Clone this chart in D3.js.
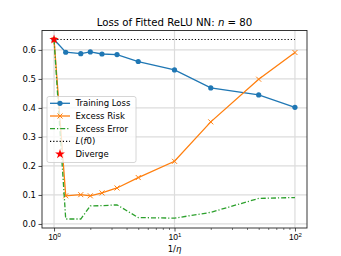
<!DOCTYPE html>
<html><head><meta charset="utf-8">
<script src="https://cdn.jsdelivr.net/npm/d3@7"></script>
<style>
html,body{margin:0;padding:0;background:#fff;}
svg{display:block;font-family:"DejaVu Sans",sans-serif;}
</style></head>
<body><svg id="c" width="341" height="256"></svg>
<script>
const invEta = [1, 1.25, 1.667, 2, 2.5, 3.333, 5, 10, 20, 50, 100];
const trainingLoss = [0.636, 0.592, 0.587, 0.593, 0.586, 0.584, 0.560, 0.531, 0.469, 0.445, 0.402];
const excessRisk   = [0.636, 0.097, 0.101, 0.097, 0.107, 0.124, 0.160, 0.216, 0.352, 0.499, 0.591];
const excessError  = [0.636, 0.017, 0.017, 0.062, 0.063, 0.066, 0.022, 0.020, 0.040, 0.088, 0.091];
const lf0 = 0.636;
const divergeX = [1];
const divergeY = [0.636];
const yTicks = [0.0, 0.1, 0.2, 0.3, 0.4, 0.5, 0.6];
const xTicks = [1, 10, 100];
const xTickExp = ["0", "1", "2"];

const svg = d3.select("#c");
const L = 42, R = 307, T = 30.5, B = 228;

const lx0 = Math.log10(d3.min(invEta)), lx1 = Math.log10(d3.max(invEta));
const xpad = 0.05 * (lx1 - lx0);
const x = d3.scaleLog().domain([Math.pow(10, lx0 - xpad), Math.pow(10, lx1 + xpad)]).range([L, R]);
const allY = trainingLoss.concat(excessRisk, excessError, [lf0]);
const ymin = d3.min(allY), ymax = d3.max(allY), ypad = 0.05 * (ymax - ymin);
const y = d3.scaleLinear().domain([ymin - ypad, ymax + ypad]).range([B, T]);

// grid
const grid = svg.append("g");
yTicks.forEach(v => grid.append("line").attr("x1", L).attr("x2", R).attr("y1", y(v)).attr("y2", y(v))
  .attr("stroke", "#dcdcdc").attr("stroke-width", 1.2));
xTicks.forEach(v => grid.append("line").attr("x1", x(v)).attr("x2", x(v)).attr("y1", T).attr("y2", B)
  .attr("stroke", "#dcdcdc").attr("stroke-width", 1.2));

// axes
const xAxis = d3.axisBottom(x).tickValues(xTicks).tickSize(3.5).tickFormat("");
const gx = svg.append("g").attr("transform", `translate(0,${B})`).call(xAxis);
gx.select(".domain").remove();
gx.selectAll(".tick line").attr("stroke", "#222").attr("stroke-width", 0.8);
const minor = [];
for (let d = 1; d <= 10; d *= 10) for (let k = 2; k <= 9; k++) minor.push(d * k);
const xMinor = d3.axisBottom(x).tickValues(minor.filter(v => v >= x.domain()[0] && v <= x.domain()[1])).tickSize(2).tickFormat("");
const gxm = svg.append("g").attr("transform", `translate(0,${B})`).call(xMinor);
gxm.select(".domain").remove();
gxm.selectAll(".tick line").attr("stroke", "#222").attr("stroke-width", 0.6);
gx.selectAll(".tick").each(function(d, i) {
  const t = d3.select(this).append("text").attr("y", 12).attr("fill", "#000")
    .attr("text-anchor", "middle").attr("font-size", "8.5px").attr("dy", 0);
  t.append("tspan").text("10");
  t.append("tspan").attr("dy", -3.5).attr("font-size", "6px").text(xTickExp[i]);
});

const yAxis = d3.axisLeft(y).tickValues(yTicks).tickSize(3.5).tickFormat(d3.format(".1f"));
const gy = svg.append("g").attr("transform", `translate(${L},0)`).call(yAxis);
gy.select(".domain").remove();
gy.selectAll(".tick line").attr("stroke", "#222").attr("stroke-width", 0.8);
gy.selectAll(".tick text").attr("font-size", "8.5px").attr("fill", "#000").attr("x", -6)
  .attr("font-family", "DejaVu Sans");

// series
const line = d3.line().x(d => x(d[0])).y(d => y(d[1]));
const ptsT = invEta.map((v, i) => [v, trainingLoss[i]]);
const ptsR = invEta.map((v, i) => [v, excessRisk[i]]);
const ptsE = invEta.map((v, i) => [v, excessError[i]]);
const blue = "#1f77b4", orange = "#ff7f0e", green = "#2ca02c";

svg.append("path").attr("d", line(ptsT)).attr("fill", "none").attr("stroke", blue).attr("stroke-width", 1.3);
svg.selectAll(".mt").data(ptsT).join("circle").attr("cx", d => x(d[0])).attr("cy", d => y(d[1]))
  .attr("r", 2.6).attr("fill", blue);

svg.append("path").attr("d", line(ptsR)).attr("fill", "none").attr("stroke", orange).attr("stroke-width", 1.3);
function xmark(g, cx, cy, s, col) {
  g.append("path").attr("d", `M${cx - s},${cy - s}L${cx + s},${cy + s}M${cx - s},${cy + s}L${cx + s},${cy - s}`)
    .attr("stroke", col).attr("stroke-width", 1).attr("fill", "none");
}
ptsR.forEach(d => xmark(svg, x(d[0]), y(d[1]), 2.5, orange));

svg.append("path").attr("d", line(ptsE)).attr("fill", "none").attr("stroke", green).attr("stroke-width", 1.3)
  .attr("stroke-dasharray", "5,2,1.2,2");

svg.append("line").attr("x1", x(d3.min(invEta))).attr("x2", x(d3.max(invEta))).attr("y1", y(lf0)).attr("y2", y(lf0))
  .attr("stroke", "#000").attr("stroke-width", 1.2).attr("stroke-dasharray", "1.2,2");

const star = d3.symbol().type(d3.symbolStar).size(28);
divergeX.forEach((v, i) => svg.append("path").attr("d", star())
  .attr("transform", `translate(${x(v)},${y(divergeY[i])})`).attr("fill", "red"));

// spines
svg.append("rect").attr("x", L).attr("y", T).attr("width", R - L).attr("height", B - T)
  .attr("fill", "none").attr("stroke", "#222").attr("stroke-width", 0.9);

// title and labels
const title = svg.append("text").attr("x", (L + R) / 2).attr("y", 26).attr("text-anchor", "middle")
  .attr("font-size", "10.2px").attr("fill", "#000");
title.append("tspan").text("Loss of Fitted ReLU NN: ");
title.append("tspan").attr("font-style", "italic").text("n");
title.append("tspan").text(" = 80");

const xl = svg.append("text").attr("x", (L + R) / 2).attr("y", 252).attr("text-anchor", "middle")
  .attr("font-size", "8.5px").attr("fill", "#000");
xl.append("tspan").text("1/");
xl.append("tspan").attr("font-style", "italic").text("η");

// legend
const lg = svg.append("g");
lg.append("rect").attr("x", 47).attr("y", 96.5).attr("width", 89).attr("height", 66).attr("rx", 2)
  .attr("fill", "#fff").attr("fill-opacity", 0.8).attr("stroke", "#ccc").attr("stroke-width", 0.8);
const rowY = [103.3, 116, 128.7, 141.4, 154.1];
const hx0 = 50, hx1 = 70, hxm = 60, tx = 75.5;
lg.append("line").attr("x1", hx0).attr("x2", hx1).attr("y1", rowY[0]).attr("y2", rowY[0]).attr("stroke", blue).attr("stroke-width", 1.3);
lg.append("circle").attr("cx", hxm).attr("cy", rowY[0]).attr("r", 2.6).attr("fill", blue);
lg.append("line").attr("x1", hx0).attr("x2", hx1).attr("y1", rowY[1]).attr("y2", rowY[1]).attr("stroke", orange).attr("stroke-width", 1.3);
xmark(lg, hxm, rowY[1], 2.5, orange);
lg.append("line").attr("x1", hx0).attr("x2", hx1).attr("y1", rowY[2]).attr("y2", rowY[2]).attr("stroke", green).attr("stroke-width", 1.3)
  .attr("stroke-dasharray", "5,2,1.2,2");
lg.append("line").attr("x1", hx0).attr("x2", hx1).attr("y1", rowY[3]).attr("y2", rowY[3]).attr("stroke", "#000").attr("stroke-width", 1.2)
  .attr("stroke-dasharray", "1.2,2");
lg.append("path").attr("d", d3.symbol().type(d3.symbolStar).size(30)()).attr("transform", `translate(${hxm},${rowY[4]})`).attr("fill", "red");
const labels = ["Training Loss", "Excess Risk", "Excess Error", null, "Diverge"];
labels.forEach((t, i) => {
  if (t) lg.append("text").attr("x", tx).attr("y", rowY[i] + 3).attr("font-size", "8.5px").attr("fill", "#000").text(t);
});
const lt = lg.append("text").attr("x", tx).attr("y", rowY[3] + 3).attr("font-size", "8.5px").attr("fill", "#000");
lt.append("tspan").attr("font-style", "italic").text("L");
lt.append("tspan").text("(");
lt.append("tspan").attr("font-style", "italic").text("f");
lt.append("tspan").text("0)");
</script></body></html>
